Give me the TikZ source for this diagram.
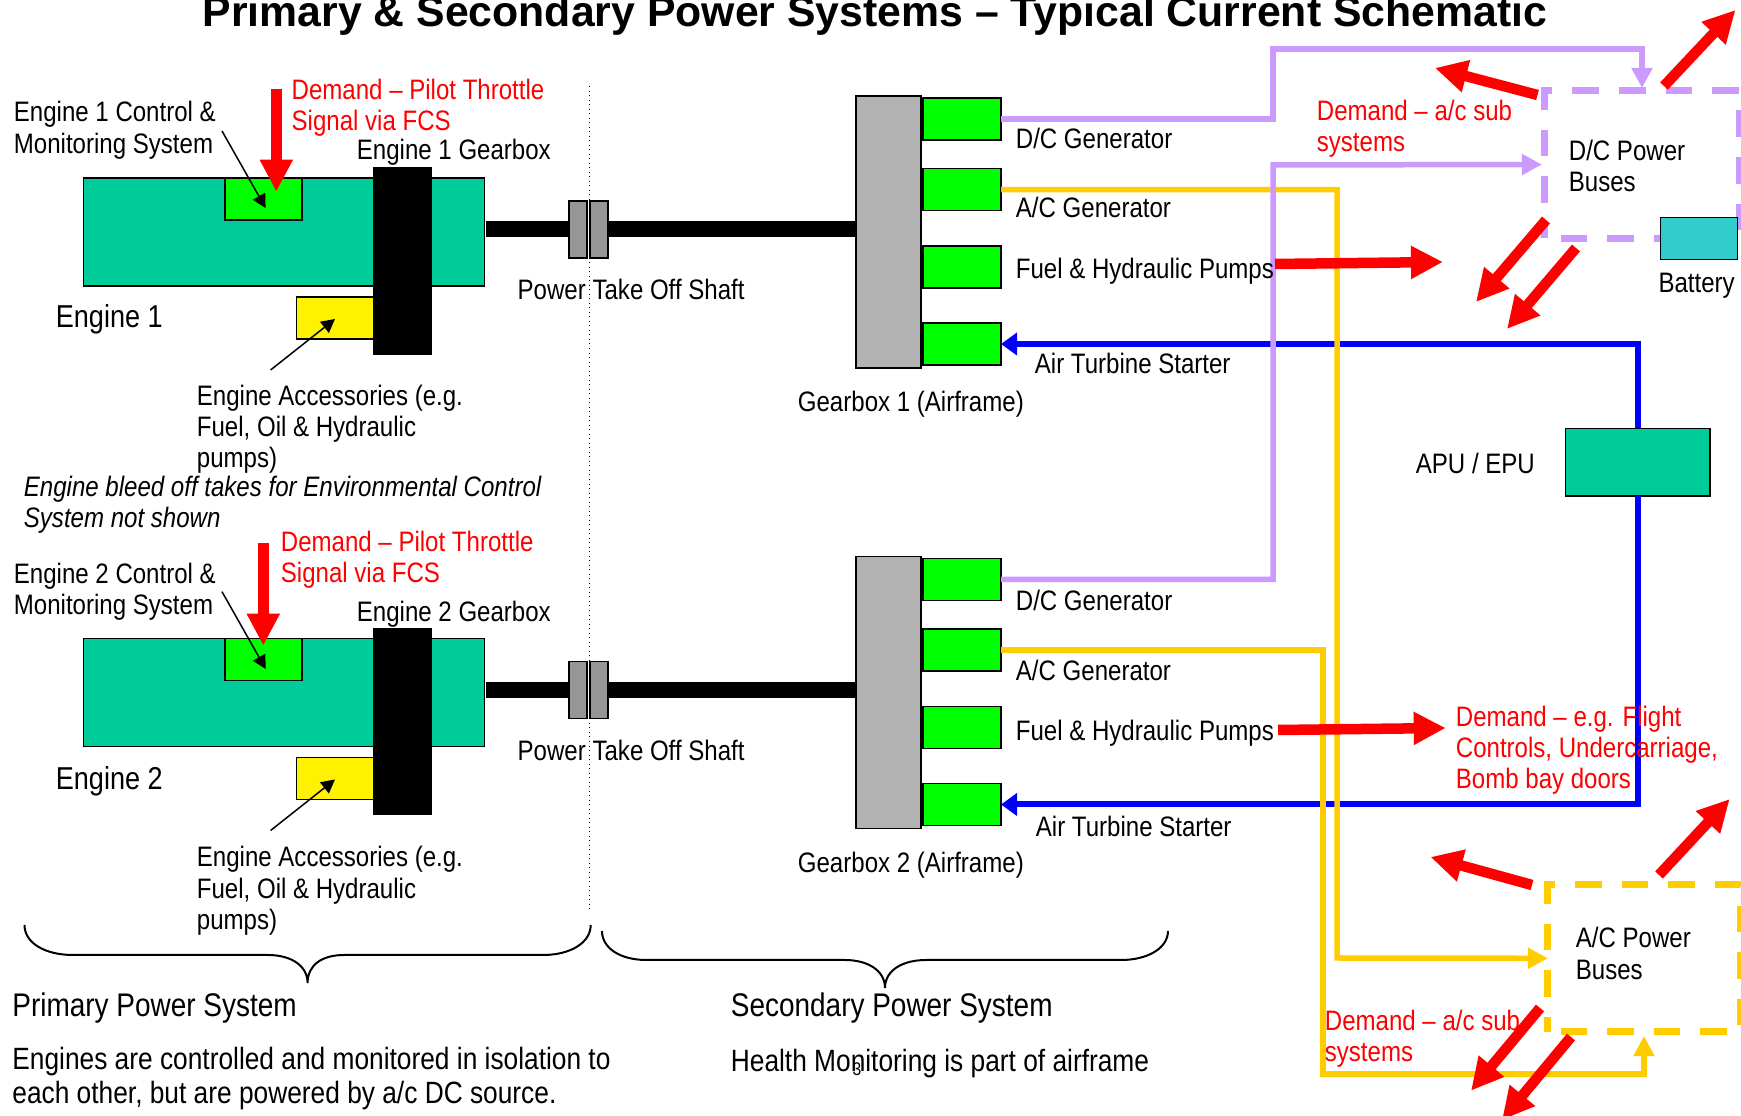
\documentclass[tikz,border=0pt]{standalone}
\usepackage{fontspec}
\setmainfont{Liberation Sans}
\newfontfamily\narrowfont[FakeStretch=0.855]{Liberation Sans}
\usetikzlibrary{arrows.meta}
\newcommand{\txtfont}{\narrowfont\fontsize{8}{8.9}\selectfont}
\newcommand{\namefont}{\narrowfont\fontsize{9}{10}\selectfont}
\newcommand{\headfont}{\narrowfont\fontsize{9.3}{10}\selectfont}
\newcommand{\bodyfont}{\narrowfont\fontsize{8.75}{9.7}\selectfont}
\definecolor{engteal}{HTML}{00CC99}
\definecolor{genlime}{HTML}{00FF00}
\definecolor{dclilac}{HTML}{CC99FF}
\definecolor{acorange}{HTML}{FFCC00}
\definecolor{batteal}{HTML}{33CCCC}
\tikzset{
  box/.style={draw=black, line width=.15mm, inner sep=0pt, outer sep=0pt},
  engine/.style={box, fill=engteal, minimum width=40.1mm, minimum height=10.8mm},
  ctrlbox/.style={box, fill=genlime, minimum width=7.7mm, minimum height=4.2mm},
  gearblack/.style={box, fill=black, minimum width=5.75mm, minimum height=18.6mm},
  accbox/.style={box, fill=yellow, minimum width=7.7mm, minimum height=4.2mm},
  clutch/.style={box, fill=black!41, minimum width=1.8mm, minimum height=5.7mm},
  airgear/.style={box, fill=black!30, minimum width=6.5mm, minimum height=27.2mm},
  genbox/.style={box, fill=genlime, minimum width=7.8mm, minimum height=4.2mm},
  busarea/.style={inner sep=0pt, outer sep=0pt},
  busline/.style={line width=.7mm, dash pattern=on 2.65mm off 2mm, dash phase=1.15mm},
  txt/.style={inner sep=0pt, anchor=north west, align=left, font=\txtfont, xshift=-.18mm, execute at begin node=\strut},
  redtxt/.style={txt, text=red},
  shaft/.style={line width=1.6mm, black},
  pointer/.style={-{Triangle[length=1.35mm,width=1.4mm]}, line width=.15mm},
  demand/.style={-{Triangle[length=3.2mm,width=3.1mm]}, red, line width=1.05mm},
  dcline/.style={-{Triangle[length=2mm,width=2mm]}, dclilac, line width=.55mm, shorten >=.3mm},
  acline/.style={-{Triangle[length=2mm,width=2mm]}, acorange, line width=.55mm},
  airline/.style={-{Triangle[length=1.6mm,width=2.2mm]}, blue, line width=.6mm},
  brace/.style={line width=.2mm}
}
\begin{document}
\begin{tikzpicture}[x=0.01cm, y=-0.01cm]
  \useasboundingbox (0,0) rectangle (1741,1116);
  \node[anchor=base, font=\fontsize{12.16}{14}\selectfont\bfseries] (title) at (875,27) {Primary \& Secondary Power Systems – Typical Current Schematic};

  % first engine
  \node[engine] (engine1) at (284,232) {};
  \node[ctrlbox] (ctrl1) at (263.3,199) {};
  \node[accbox] (acc1) at (335,318) {};
  \node[gearblack] (gearE1) at (402.25,261) {};
  \node[clutch] (clutch1a) at (577.8,229.5) {};
  \node[clutch] (clutch1b) at (599,229.5) {};
  \node[airgear] (gearA1) at (888.6,232) {};
  \node[genbox] (dc1) at (962,119) {};
  \node[genbox] (ac1) at (962,189.7) {};
  \node[genbox] (fuel1) at (962,267) {};
  \node[genbox] (air1) at (962,344) {};
  \draw[shaft, shorten <=.1mm] (clutch1a.west -| engine1.east) -- (clutch1a.west);
  \draw[shaft] (clutch1b.east) -- (clutch1b.east -| gearA1.west);

  % second engine
  \node[engine] (engine2) at (284,692.5) {};
  \node[ctrlbox] (ctrl2) at (263.3,659.5) {};
  \node[accbox] (acc2) at (335,778.5) {};
  \node[gearblack] (gearE2) at (402.25,721.5) {};
  \node[clutch] (clutch2a) at (577.8,690) {};
  \node[clutch] (clutch2b) at (599,690) {};
  \node[airgear] (gearA2) at (888.6,692.5) {};
  \node[genbox] (dc2) at (962,579.5) {};
  \node[genbox] (ac2) at (962,650.2) {};
  \node[genbox] (fuel2) at (962,727.5) {};
  \node[genbox] (air2) at (962,804.5) {};
  \draw[shaft, shorten <=.1mm] (clutch2a.west -| engine2.east) -- (clutch2a.west);
  \draw[shaft] (clutch2b.east) -- (clutch2b.east -| gearA2.west);

  % buses and apu
  \node[busarea, minimum width=19.4mm, minimum height=14.7mm] (dcbus) at (1642,164.5) {};
  \node[busarea, minimum width=19.2mm, minimum height=14.73mm] (acbus) at (1644,958.3) {};
  \draw[busline, dclilac] (dcbus.south west) -- (dcbus.north west) -- (dcbus.north east) -- (dcbus.south east) -- cycle;
  \draw[busline, acorange] (acbus.south west) -- (acbus.north west) -- (acbus.north east) -- (acbus.south east) -- cycle;
  \node[box, fill=batteal, minimum width=7.7mm, minimum height=4.16mm] (battery) at (1699,238.5) {};
  \node[box, fill=engteal, minimum width=14.45mm, minimum height=6.75mm] (apu) at (1637.75,462.2) {};

  \draw[airline] (apu.north) |- (air1.east);
  \draw[airline] (apu.south) |- (air2.east);
  \draw[acline] (ac1.east) -| (1337,958) -- (acbus.west);
  \draw[acline, shorten >=.4mm] (ac2.east) -| (1323,1074) -| (acbus.south);
  \draw[dcline] (dc1.east) -| (1273,49) -| (dcbus.north);
  \draw[dcline] (dc2.east) -| (1273,165) -- (dcbus.west);

  % labels
  \node[txt] (ctrllbl1) at (15,100.9) {Engine 1 Control \&\\Monitoring System};
  \node[redtxt] (pilotlbl1) at (292.8,78.6) {Demand – Pilot Throttle\\Signal via FCS};
  \node[txt] (gearlbl1) at (358,137.1) {Engine 1 Gearbox};
  \node[txt, font=\namefont] (name1) at (57,302) {Engine 1};
  \node[txt] (acclbl1) at (198,384.2) {Engine Accessories (e.g.\\Fuel, Oil \& Hydraulic\\pumps)};
  \node[txt] (ptolbl1) at (518.8,277.1) {Power Take Off Shaft};
  \node[txt] (dclbl1) at (1017,125.4) {D/C Generator};
  \node[txt] (aclbl1) at (1017,194.8) {A/C Generator};
  \node[txt] (fuellbl1) at (1017,256.1) {Fuel \& Hydraulic Pumps};
  \node[txt] (airlbl1) at (1036,351.1) {Air Turbine Starter};
  \node[txt] (gearAlbl1) at (799,389.1) {Gearbox 1 (Airframe)};
  \node[txt, font=\txtfont\itshape] (bleedlbl) at (25,475.2) {Engine bleed off takes for Environmental Control\\System not shown};

  \node[txt] (ctrllbl2) at (15,562.5) {Engine 2 Control \&\\Monitoring System};
  \node[redtxt] (pilotlbl2) at (282,530.3) {Demand – Pilot Throttle\\Signal via FCS};
  \node[txt] (gearlbl2) at (358,598.7) {Engine 2 Gearbox};
  \node[txt, font=\namefont] (name2) at (57,763.7) {Engine 2};
  \node[txt] (acclbl2) at (198,845.8) {Engine Accessories (e.g.\\Fuel, Oil \& Hydraulic\\pumps)};
  \node[txt] (ptolbl2) at (518.8,737.6) {Power Take Off Shaft};
  \node[txt] (dclbl2) at (1017,588.1) {D/C Generator};
  \node[txt] (aclbl2) at (1017,658.1) {A/C Generator};
  \node[txt] (fuellbl2) at (1017,718.1) {Fuel \& Hydraulic Pumps};
  \node[txt] (airlbl2) at (1037,814.1) {Air Turbine Starter};
  \node[txt] (gearAlbl2) at (799,850.1) {Gearbox 2 (Airframe)};

  \node[redtxt] (sublbl1) at (1318,99.6) {Demand – a/c sub\\systems};
  \node[txt] (dcbuslbl) at (1570,139.1) {D/C Power\\Buses};
  \node[txt] (batlbl) at (1659.6,269.8) {Battery};
  \node[txt] (apulbl) at (1417,451.1) {APU / EPU};
  \node[redtxt] (flightlbl) at (1457,705.3) {Demand – e.g. Flight\\Controls, Undercarriage,\\Bomb bay doors};
  \node[txt] (acbuslbl) at (1577,926.9) {A/C Power\\Buses};
  \node[redtxt] (sublbl2) at (1326,1009.3) {Demand – a/c sub\\systems};

  \node[txt, font=\headfont] (primlbl) at (13.5,991) {Primary Power System};
  \node[txt, font=\headfont] (seclbl) at (732,991) {Secondary Power System};
  \node[txt, font=\bodyfont] (primtxt) at (13.5,1046.7) {Engines are controlled and monitored in isolation to\\each other, but are powered by a/c DC source.};
  \node[txt, font=\bodyfont] (sectxt) at (732,1046.7) {Health Monitoring is part of airframe};
  \node[anchor=base, inner sep=0pt, font=\narrowfont\fontsize{5.2}{6}\selectfont] (pagenum) at (857,1075.7) {3};

  % boundary and braces
  \coordinate (divtop) at (589.4,86);
  \coordinate (divbot) at (589.4,910);
  \draw[densely dotted, line width=.1mm] (divtop) -- (divbot);
  \draw[brace] (24.5,925) .. controls (24.5,943) and (45,955) .. (73,955) -- (268,955) .. controls (290,955) and (307.6,965) .. (307.6,983) .. controls (307.6,965) and (322,955) .. (344,955) -- (543,955) .. controls (570,955) and (590.7,943) .. (590.7,925);
  \draw[brace] (602,931) .. controls (602,948) and (620,960) .. (646.5,960) -- (845,960) .. controls (867,960) and (885,970) .. (885,988) .. controls (885,970) and (903,960) .. (926,960) -- (1121,960) .. controls (1148,960) and (1168,948) .. (1168,931);

  % pointers
  \coordinate (ptA1) at (222,131);
  \coordinate (ptB1) at (265.6,208);
  \coordinate (ptC1) at (270.6,370);
  \coordinate (ptD1) at (335,319);
  \draw[pointer] (ptA1) -- (ptB1);
  \draw[pointer] (ptC1) -- (ptD1);
  \coordinate (ptA2) at (222,591.7);
  \coordinate (ptB2) at (265.7,669);
  \coordinate (ptC2) at (270.6,830.5);
  \coordinate (ptD2) at (335,779.5);
  \draw[pointer] (ptA2) -- (ptB2);
  \draw[pointer] (ptC2) -- (ptD2);

  % demand arrows
  \coordinate (pilA1) at (276.3,89);
  \coordinate (pilB1) at (276.3,191.7);
  \coordinate (pilA2) at (263.3,543);
  \coordinate (pilB2) at (263.3,645.7);
  \draw[demand] (pilA1) -- (pilB1);
  \draw[demand] (pilA2) -- (pilB2);
  \coordinate (fuelA1) at (1275,264);
  \coordinate (fuelB1) at (1443,262);
  \coordinate (fuelA2) at (1278,730);
  \coordinate (fuelB2) at (1445.7,728);
  \draw[demand] (fuelA1) -- (fuelB1);
  \draw[demand] (fuelA2) -- (fuelB2);
  \coordinate (dcA) at (1537.5,95);
  \coordinate (dcB) at (1435,68);
  \coordinate (dcC) at (1664,86);
  \coordinate (dcD) at (1735.5,10);
  \coordinate (dcE) at (1546,220);
  \coordinate (dcF) at (1476,302);
  \coordinate (dcG) at (1576,248);
  \coordinate (dcH) at (1507,329);
  \draw[demand] (dcA) -- (dcB);
  \draw[demand] (dcC) -- (dcD);
  \draw[demand] (dcE) -- (dcF);
  \draw[demand] (dcG) -- (dcH);
  \coordinate (acA) at (1532,885);
  \coordinate (acB) at (1430.5,857);
  \coordinate (acC) at (1659,875);
  \coordinate (acD) at (1729.7,799);
  \coordinate (acE) at (1540,1008);
  \coordinate (acF) at (1471,1090.7);
  \coordinate (acG) at (1571,1037);
  \coordinate (acH) at (1502,1120);
  \draw[demand] (acA) -- (acB);
  \draw[demand] (acC) -- (acD);
  \draw[demand] (acE) -- (acF);
  \draw[demand] (acG) -- (acH);
\end{tikzpicture}
\end{document}
